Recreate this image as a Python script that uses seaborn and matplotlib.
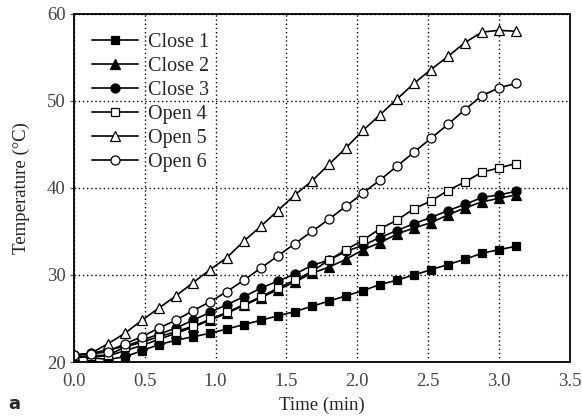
import matplotlib
matplotlib.use("Agg")
import matplotlib.pyplot as plt
import numpy as np
import pandas as pd
import seaborn as sns

# time axis (min), one reading every 0.12 min
time_min = [round(0.12 * i, 2) for i in range(27)]

close_1 = [20.7, 20.5, 20.3, 20.6, 21.3, 22.0, 22.5, 22.9, 23.3, 23.8, 24.3, 24.8, 25.3, 25.8,
           26.4, 27.0, 27.6, 28.2, 28.9, 29.4, 30.0, 30.6, 31.2, 31.8, 32.5, 32.9, 33.3]
close_2 = [20.5, 20.6, 20.7, 21.3, 21.9, 22.6, 23.3, 24.0, 24.8, 25.6, 26.5, 27.4, 28.3, 29.2,
           30.2, 30.9, 31.8, 32.9, 33.7, 34.7, 35.4, 36.0, 36.9, 37.7, 38.4, 38.8, 39.2]
close_3 = [20.8, 21.0, 21.4, 21.8, 22.5, 23.2, 23.9, 24.8, 25.7, 26.6, 27.5, 28.5, 29.3, 30.1,
           31.1, 31.7, 32.7, 33.4, 34.3, 35.1, 35.9, 36.6, 37.4, 38.1, 38.9, 39.2, 39.6]
open_4 = [20.6, 20.7, 20.8, 21.7, 22.3, 22.9, 23.5, 24.1, 24.9, 25.7, 26.6, 27.5, 28.5, 29.4,
          30.4, 31.7, 32.9, 34.0, 35.3, 36.3, 37.6, 38.5, 39.7, 40.7, 41.8, 42.3, 42.8]
open_5 = [20.8, 21.0, 22.1, 23.3, 24.8, 26.2, 27.6, 29.1, 30.6, 32.0, 33.9, 35.6, 37.4, 39.2,
          40.8, 42.7, 44.6, 46.6, 48.4, 50.2, 52.0, 53.6, 55.1, 56.7, 57.9, 58.1, 58.0]
open_6 = [20.8, 20.9, 21.2, 22.1, 22.9, 23.9, 24.8, 25.9, 26.9, 28.1, 29.4, 30.8, 32.2, 33.6,
          35.0, 36.4, 37.9, 39.4, 40.9, 42.5, 44.1, 45.7, 47.3, 49.0, 50.6, 51.5, 52.0]

series_names = ["Close 1", "Close 2", "Close 3", "Open 4", "Open 5", "Open 6"]
series_values = [close_1, close_2, close_3, open_4, open_5, open_6]

x_ticks = [0.0, 0.5, 1.0, 1.5, 2.0, 2.5, 3.0, 3.5]
y_ticks = [20, 30, 40, 50, 60]

markers = {"Close 1": "s", "Close 2": "^", "Close 3": "o",
           "Open 4": "s", "Open 5": "^", "Open 6": "o"}
filled = {"Close 1": True, "Close 2": True, "Close 3": True,
          "Open 4": False, "Open 5": False, "Open 6": False}

df = pd.DataFrame({
    "Time": np.tile(time_min, len(series_names)),
    "Temperature": np.concatenate(series_values),
    "Series": np.repeat(series_names, len(time_min)),
})

sns.set_style("white")
plt.rcParams["font.family"] = ["Liberation Serif", "DejaVu Serif"]

fig = plt.figure(figsize=(5.82, 4.19), dpi=100)
ax = fig.add_axes([0.127, 0.136, 0.852, 0.831])

for name in series_names:
    sub = df[df["Series"] == name]
    sns.lineplot(
        data=sub, x="Time", y="Temperature", ax=ax, label=name,
        color="black", linewidth=1.2,
        marker=markers[name], markersize=6.5 if markers[name] != "s" else 6,
        markerfacecolor="black" if filled[name] else "white",
        markeredgecolor="black", markeredgewidth=0.9,
    )

ax.set_xlim(0, 3.5)
ax.set_ylim(20, 60)
ax.set_xticks(x_ticks)
ax.set_xticklabels([f"{v:.1f}" for v in x_ticks])
ax.set_yticks(y_ticks)
ax.tick_params(axis="both", labelsize=13.5, colors="#444444", length=3, direction="out")
ax.tick_params(axis="x", length=0, pad=8)
ax.tick_params(axis="y", left=True, pad=3)

ax.grid(True, linestyle=(0, (1, 2)), color="black", linewidth=1.0)
for spine in ax.spines.values():
    spine.set_color("black")
    spine.set_linewidth(1.3)

ax.set_xlabel("Time (min)", fontsize=13.5, color="#222222", labelpad=5)
ax.set_ylabel("Temperature (\u00b0C)", fontsize=13.5, color="#222222", labelpad=12)

leg = ax.legend(loc="upper left", bbox_to_anchor=(0.008, 0.985), frameon=False,
                fontsize=14.5, handlelength=2.3, handletextpad=0.5,
                labelspacing=0.24, borderaxespad=0.3)

fig.text(0.015, 0.025, "a", fontsize=13, fontweight="bold", family="DejaVu Sans")

fig.savefig("out.png", dpi=100)
plt.close(fig)
